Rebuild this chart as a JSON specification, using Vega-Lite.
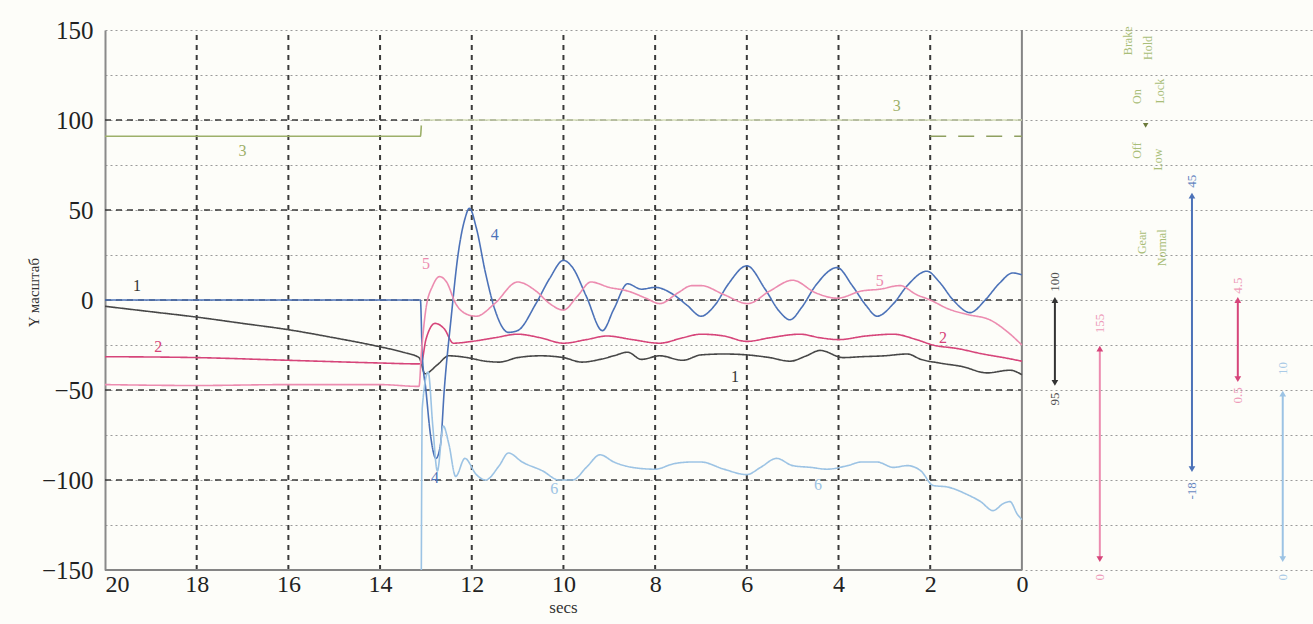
{
  "$schema": "https://vega.github.io/schema/vega-lite/v6.json",
  "width": 1208,
  "height": 540,
  "autosize": {"type": "none"},
  "padding": {"left": 105, "top": 30, "right": 0, "bottom": 54},
  "background": "#fdfdf9",
  "config": {"view": {"stroke": null}},
  "datasets": {
    "gridH": [{"v": -100}, {"v": -50}, {"v": 0}, {"v": 50}, {"v": 100}],
    "gridV": [{"t": 2}, {"t": 4}, {"t": 6}, {"t": 8}, {"t": 10}, {"t": 12}, {"t": 14}, {"t": 16}, {"t": 18}],
    "frame": [{"t": 0, "t2": 0, "v": -150, "v2": 150}, {"t": 20, "t2": 0, "v": -150, "v2": -150}],
    "lines": [
      {"s": "1", "t": 20, "v": -3.5}, {"s": "1", "t": 19, "v": -6.5}, {"s": "1", "t": 18, "v": -9.5}, {"s": "1", "t": 17, "v": -13}, {"s": "1", "t": 16, "v": -16.5}, {"s": "1", "t": 15, "v": -21}, {"s": "1", "t": 14, "v": -26}, {"s": "1", "t": 13.5, "v": -29}, {"s": "1", "t": 13.15, "v": -32}, {"s": "1", "t": 13.02, "v": -41}, {"s": "1", "t": 12.75, "v": -36}, {"s": "1", "t": 12.5, "v": -31}, {"s": "1", "t": 12.1, "v": -32}, {"s": "1", "t": 11.7, "v": -34}, {"s": "1", "t": 11.4, "v": -34.5}, {"s": "1", "t": 11.0, "v": -32}, {"s": "1", "t": 10.5, "v": -31}, {"s": "1", "t": 10.0, "v": -32}, {"s": "1", "t": 9.6, "v": -34.5}, {"s": "1", "t": 9.2, "v": -33}, {"s": "1", "t": 8.9, "v": -31}, {"s": "1", "t": 8.6, "v": -29}, {"s": "1", "t": 8.3, "v": -33}, {"s": "1", "t": 7.9, "v": -31}, {"s": "1", "t": 7.4, "v": -33.5}, {"s": "1", "t": 7.0, "v": -30.5}, {"s": "1", "t": 6.5, "v": -30}, {"s": "1", "t": 6.0, "v": -30.5}, {"s": "1", "t": 5.5, "v": -32}, {"s": "1", "t": 5.06, "v": -34}, {"s": "1", "t": 4.7, "v": -31}, {"s": "1", "t": 4.4, "v": -28}, {"s": "1", "t": 3.9, "v": -32}, {"s": "1", "t": 3.5, "v": -31.5}, {"s": "1", "t": 3.0, "v": -31}, {"s": "1", "t": 2.5, "v": -30}, {"s": "1", "t": 2.2, "v": -33}, {"s": "1", "t": 1.8, "v": -35}, {"s": "1", "t": 1.3, "v": -37}, {"s": "1", "t": 0.76, "v": -40.5}, {"s": "1", "t": 0.26, "v": -39}, {"s": "1", "t": 0, "v": -41.5},

      {"s": "2", "t": 20, "v": -31.5}, {"s": "2", "t": 18, "v": -32}, {"s": "2", "t": 16, "v": -33.5}, {"s": "2", "t": 14, "v": -35}, {"s": "2", "t": 13.15, "v": -35.5}, {"s": "2", "t": 13.1, "v": -35}, {"s": "2", "t": 13.0, "v": -22}, {"s": "2", "t": 12.8, "v": -13}, {"s": "2", "t": 12.6, "v": -16}, {"s": "2", "t": 12.4, "v": -24}, {"s": "2", "t": 12.0, "v": -23}, {"s": "2", "t": 11.5, "v": -21}, {"s": "2", "t": 11.0, "v": -19}, {"s": "2", "t": 10.5, "v": -21}, {"s": "2", "t": 10.0, "v": -24}, {"s": "2", "t": 9.5, "v": -22}, {"s": "2", "t": 9.05, "v": -20}, {"s": "2", "t": 8.5, "v": -22}, {"s": "2", "t": 7.9, "v": -24}, {"s": "2", "t": 7.4, "v": -21}, {"s": "2", "t": 7.0, "v": -19}, {"s": "2", "t": 6.5, "v": -20}, {"s": "2", "t": 6.0, "v": -23}, {"s": "2", "t": 5.5, "v": -21}, {"s": "2", "t": 4.84, "v": -19}, {"s": "2", "t": 4.4, "v": -21}, {"s": "2", "t": 4.0, "v": -22}, {"s": "2", "t": 3.4, "v": -20}, {"s": "2", "t": 2.8, "v": -19}, {"s": "2", "t": 2.3, "v": -22}, {"s": "2", "t": 1.94, "v": -25}, {"s": "2", "t": 1.4, "v": -27}, {"s": "2", "t": 0.85, "v": -30}, {"s": "2", "t": 0.4, "v": -32}, {"s": "2", "t": 0, "v": -34},

      {"s": "3a", "t": 20, "v": 91}, {"s": "3a", "t": 13.12, "v": 91}, {"s": "3a", "t": 13.1, "v": 97},
      {"s": "3b", "t": 13.1, "v": 100}, {"s": "3b", "t": 0, "v": 100},
      {"s": "3c", "t": 2.0, "v": 91}, {"s": "3c", "t": 0, "v": 91},

      {"s": "4", "t": 20, "v": 0}, {"s": "4", "t": 13.12, "v": 0}, {"s": "4", "t": 13.08, "v": -30}, {"s": "4", "t": 13.0, "v": -50}, {"s": "4", "t": 12.9, "v": -75}, {"s": "4", "t": 12.78, "v": -88}, {"s": "4", "t": 12.68, "v": -80}, {"s": "4", "t": 12.6, "v": -50}, {"s": "4", "t": 12.45, "v": -10}, {"s": "4", "t": 12.3, "v": 25}, {"s": "4", "t": 12.15, "v": 45}, {"s": "4", "t": 12.05, "v": 51}, {"s": "4", "t": 11.9, "v": 40}, {"s": "4", "t": 11.7, "v": 15}, {"s": "4", "t": 11.5, "v": -5}, {"s": "4", "t": 11.2, "v": -18}, {"s": "4", "t": 11.0, "v": -17}, {"s": "4", "t": 10.6, "v": -2}, {"s": "4", "t": 10.3, "v": 12}, {"s": "4", "t": 10.0, "v": 22}, {"s": "4", "t": 9.8, "v": 18}, {"s": "4", "t": 9.5, "v": 2}, {"s": "4", "t": 9.15, "v": -17}, {"s": "4", "t": 8.9, "v": -5}, {"s": "4", "t": 8.6, "v": 9}, {"s": "4", "t": 8.3, "v": 6}, {"s": "4", "t": 8.0, "v": 7}, {"s": "4", "t": 7.6, "v": 3}, {"s": "4", "t": 7.3, "v": -3}, {"s": "4", "t": 7.0, "v": -9}, {"s": "4", "t": 6.7, "v": -3}, {"s": "4", "t": 6.4, "v": 9}, {"s": "4", "t": 6.0, "v": 19}, {"s": "4", "t": 5.6, "v": 6}, {"s": "4", "t": 5.3, "v": -6}, {"s": "4", "t": 5.06, "v": -11}, {"s": "4", "t": 4.8, "v": -4}, {"s": "4", "t": 4.5, "v": 8}, {"s": "4", "t": 4.03, "v": 18}, {"s": "4", "t": 3.7, "v": 8}, {"s": "4", "t": 3.4, "v": -3}, {"s": "4", "t": 3.16, "v": -9}, {"s": "4", "t": 2.8, "v": -2}, {"s": "4", "t": 2.5, "v": 8}, {"s": "4", "t": 2.07, "v": 16}, {"s": "4", "t": 1.8, "v": 10}, {"s": "4", "t": 1.5, "v": 0}, {"s": "4", "t": 1.13, "v": -7}, {"s": "4", "t": 0.8, "v": 0}, {"s": "4", "t": 0.5, "v": 9}, {"s": "4", "t": 0.2, "v": 15}, {"s": "4", "t": 0, "v": 14},

      {"s": "5", "t": 20, "v": -47}, {"s": "5", "t": 18, "v": -47.5}, {"s": "5", "t": 16, "v": -47}, {"s": "5", "t": 14, "v": -47}, {"s": "5", "t": 13.15, "v": -48}, {"s": "5", "t": 13.1, "v": -30}, {"s": "5", "t": 13.0, "v": -5}, {"s": "5", "t": 12.85, "v": 8}, {"s": "5", "t": 12.7, "v": 13}, {"s": "5", "t": 12.55, "v": 10}, {"s": "5", "t": 12.35, "v": -2}, {"s": "5", "t": 12.1, "v": -8}, {"s": "5", "t": 11.9, "v": -9}, {"s": "5", "t": 11.5, "v": -2}, {"s": "5", "t": 11.0, "v": 10}, {"s": "5", "t": 10.6, "v": 5}, {"s": "5", "t": 10.3, "v": -2}, {"s": "5", "t": 10.0, "v": -5.6}, {"s": "5", "t": 9.7, "v": 2}, {"s": "5", "t": 9.4, "v": 10}, {"s": "5", "t": 9.0, "v": 7}, {"s": "5", "t": 8.6, "v": 5}, {"s": "5", "t": 8.2, "v": 1}, {"s": "5", "t": 7.9, "v": -2}, {"s": "5", "t": 7.5, "v": 4}, {"s": "5", "t": 7.2, "v": 8}, {"s": "5", "t": 7.0, "v": 8}, {"s": "5", "t": 6.5, "v": 3}, {"s": "5", "t": 5.98, "v": -2}, {"s": "5", "t": 5.5, "v": 5}, {"s": "5", "t": 5.0, "v": 11}, {"s": "5", "t": 4.5, "v": 4}, {"s": "5", "t": 4.03, "v": 1}, {"s": "5", "t": 3.5, "v": 5}, {"s": "5", "t": 3.1, "v": 6}, {"s": "5", "t": 2.66, "v": 8}, {"s": "5", "t": 2.3, "v": 3}, {"s": "5", "t": 2.0, "v": 0}, {"s": "5", "t": 1.6, "v": -5}, {"s": "5", "t": 1.2, "v": -8}, {"s": "5", "t": 0.7, "v": -11}, {"s": "5", "t": 0.3, "v": -18}, {"s": "5", "t": 0, "v": -25},

      {"s": "6", "t": 13.1, "v": -150}, {"s": "6", "t": 13.08, "v": -60}, {"s": "6", "t": 12.95, "v": -40}, {"s": "6", "t": 12.85, "v": -70}, {"s": "6", "t": 12.75, "v": -95}, {"s": "6", "t": 12.62, "v": -70}, {"s": "6", "t": 12.5, "v": -80}, {"s": "6", "t": 12.35, "v": -98}, {"s": "6", "t": 12.15, "v": -88}, {"s": "6", "t": 11.9, "v": -97}, {"s": "6", "t": 11.7, "v": -100}, {"s": "6", "t": 11.4, "v": -92}, {"s": "6", "t": 11.2, "v": -85}, {"s": "6", "t": 10.9, "v": -90}, {"s": "6", "t": 10.45, "v": -95}, {"s": "6", "t": 10.1, "v": -100}, {"s": "6", "t": 9.8, "v": -100}, {"s": "6", "t": 9.5, "v": -93}, {"s": "6", "t": 9.2, "v": -86}, {"s": "6", "t": 8.9, "v": -90}, {"s": "6", "t": 8.5, "v": -93}, {"s": "6", "t": 8.0, "v": -94}, {"s": "6", "t": 7.6, "v": -91}, {"s": "6", "t": 7.2, "v": -90}, {"s": "6", "t": 7.0, "v": -90}, {"s": "6", "t": 6.5, "v": -94}, {"s": "6", "t": 6.0, "v": -97}, {"s": "6", "t": 5.7, "v": -93}, {"s": "6", "t": 5.35, "v": -88}, {"s": "6", "t": 5.0, "v": -92}, {"s": "6", "t": 4.6, "v": -93}, {"s": "6", "t": 4.25, "v": -94}, {"s": "6", "t": 3.8, "v": -92}, {"s": "6", "t": 3.5, "v": -90}, {"s": "6", "t": 3.16, "v": -90}, {"s": "6", "t": 2.8, "v": -93}, {"s": "6", "t": 2.5, "v": -92}, {"s": "6", "t": 2.2, "v": -95}, {"s": "6", "t": 1.94, "v": -103}, {"s": "6", "t": 1.6, "v": -104}, {"s": "6", "t": 1.2, "v": -108}, {"s": "6", "t": 0.9, "v": -112}, {"s": "6", "t": 0.63, "v": -117}, {"s": "6", "t": 0.4, "v": -113}, {"s": "6", "t": 0.26, "v": -112}, {"s": "6", "t": 0.1, "v": -119}, {"s": "6", "t": 0, "v": -122}
    ],
    "bars": [
      {"s": "k", "t": -0.72, "v": 0, "v2": -46},
      {"s": "5", "t": -1.7, "v": -27, "v2": -144},
      {"s": "4", "t": -3.71, "v": 58, "v2": -94},
      {"s": "2", "t": -4.71, "v": 0, "v2": -44},
      {"s": "6", "t": -5.69, "v": -52, "v2": -144}
    ],
    "arrows": [
      {"s": "k", "t": -0.72, "v": 0, "dir": "up"}, {"s": "k", "t": -0.72, "v": -46, "dir": "down"},
      {"s": "2", "t": -1.7, "v": -27, "dir": "up"}, {"s": "2", "t": -1.7, "v": -144, "dir": "down"},
      {"s": "4", "t": -3.71, "v": 58, "dir": "up"}, {"s": "4", "t": -3.71, "v": -94, "dir": "down"},
      {"s": "2", "t": -4.71, "v": 0, "dir": "up"}, {"s": "2", "t": -4.71, "v": -44, "dir": "down"},
      {"s": "6", "t": -5.69, "v": -52, "dir": "up"}, {"s": "6", "t": -5.69, "v": -144, "dir": "down"}
    ],
    "inlineLabels": [
      {"s": "k", "t": 19.3, "v": 8, "txt": "1"}, {"s": "k", "t": 6.26, "v": -43, "txt": "1"},
      {"s": "2", "t": 18.84, "v": -26, "txt": "2"}, {"s": "2", "t": 1.72, "v": -21, "txt": "2"},
      {"s": "3a", "t": 17.0, "v": 83, "txt": "3"}, {"s": "3a", "t": 2.73, "v": 108, "txt": "3"},
      {"s": "4", "t": 11.5, "v": 36, "txt": "4"}, {"s": "4", "t": 12.8, "v": -99, "txt": "4"},
      {"s": "5", "t": 13.0, "v": 20, "txt": "5"}, {"s": "5", "t": 3.1, "v": 10.5, "txt": "5"},
      {"s": "6", "t": 10.2, "v": -105, "txt": "6"}, {"s": "6", "t": 4.45, "v": -103, "txt": "6"}
    ],
    "sideLabels": [
      {"s": "k", "t": -0.72, "v": 10, "txt": "100"}, {"s": "k", "t": -0.72, "v": -55, "txt": "95"},
      {"s": "5", "t": -1.7, "v": -13, "txt": "155"}, {"s": "5", "t": -1.7, "v": -154, "txt": "0"},
      {"s": "4", "t": -3.71, "v": 66, "txt": "45"}, {"s": "4", "t": -3.71, "v": -106, "txt": "-18"},
      {"s": "5", "t": -4.71, "v": 8, "txt": "4.5"}, {"s": "5", "t": -4.71, "v": -53, "txt": "0.5"},
      {"s": "6", "t": -5.69, "v": -38, "txt": "10"}, {"s": "6", "t": -5.69, "v": -154, "txt": "0"}
    ],
    "notes": [
      {"t": -2.31, "v": 144, "txt": "Brake"}, {"t": -2.75, "v": 140, "txt": "Hold"},
      {"t": -2.51, "v": 113, "txt": "On"}, {"t": -3.01, "v": 116, "txt": "Lock"},
      {"t": -2.51, "v": 83, "txt": "Off"}, {"t": -2.97, "v": 78, "txt": "Low"},
      {"t": -2.62, "v": 32, "txt": "Gear"}, {"t": -3.05, "v": 29, "txt": "Normal"}
    ],
    "noteMarks": [{"t": -2.7, "v": 97}]
  },
  "layer": [
    {
      "data": {"name": "gridH"},
      "mark": {"type": "rule", "color": "#3a3a3a", "strokeDash": [6, 5], "strokeWidth": 1.5},
      "encoding": {
        "y": {"field": "v", "type": "quantitative",
          "scale": {"domain": [-150, 150], "nice": false, "zero": false},
          "axis": {
            "values": [-150, -125, -100, -75, -50, -25, 0, 25, 50, 75, 100, 125, 150],
            "labelExpr": "datum.value % 50 === 0 ? datum.label : ''",
            "grid": true, "gridDash": [2, 3], "gridColor": "#9a9a9a", "gridWidth": 1,
            "domainColor": "#8a8a8a", "domainWidth": 2, "ticks": false,
            "labelFont": "Liberation Serif", "labelFontSize": 25, "labelColor": "#222222", "labelPadding": 12,
            "title": "Y масштаб", "titleFont": "Liberation Serif", "titleFontSize": 15, "titleFontWeight": "normal",
            "titleColor": "#333333", "titleX": -72, "titleY": 262, "titleAlign": "center", "titleBaseline": "middle", "titleAngle": 270
          }},
        "x": {"datum": 20, "type": "quantitative",
          "scale": {"domain": [20, -6.35], "nice": false, "zero": false},
          "axis": {
            "values": [0, 2, 4, 6, 8, 10, 12, 14, 16, 18, 20],
            "grid": false, "domain": false, "ticks": false,
            "labelFont": "Liberation Serif", "labelFontSize": 24, "labelColor": "#222222", "labelPadding": 2,
            "title": "secs", "titleFont": "Liberation Serif", "titleFontSize": 17, "titleFontWeight": "normal",
            "titleColor": "#333333", "titleX": 458, "titleAlign": "center", "titlePadding": 3
          }},
        "x2": {"datum": 0}
      }
    },
    {
      "data": {"name": "gridV"},
      "mark": {"type": "rule", "color": "#3a3a3a", "strokeDash": [5, 5], "strokeWidth": 2},
      "encoding": {
        "x": {"field": "t", "type": "quantitative"},
        "y": {"datum": -150, "type": "quantitative"},
        "y2": {"datum": 150}
      }
    },
    {
      "data": {"name": "frame"},
      "mark": {"type": "rule", "color": "#858585", "strokeWidth": 2},
      "encoding": {
        "x": {"field": "t", "type": "quantitative"},
        "x2": {"field": "t2"},
        "y": {"field": "v", "type": "quantitative"},
        "y2": {"field": "v2"}
      }
    },
    {
      "data": {"name": "lines"},
      "mark": {"type": "line", "strokeWidth": 1.6, "clip": true, "interpolate": "monotone"},
      "encoding": {
        "x": {"field": "t", "type": "quantitative"},
        "y": {"field": "v", "type": "quantitative"},
        "color": {"field": "s", "type": "nominal", "legend": null,
          "scale": {"domain": ["1", "2", "3a", "3b", "3c", "4", "5", "6", "k", "g"],
                    "range": ["#474747", "#d6457a", "#9db06a", "#d3dcb6", "#8fa060", "#4c72b8", "#ec8cb0", "#9cc3e4", "#333333", "#b5c78a"]}},
        "strokeDash": {"field": "s", "type": "nominal", "legend": null,
          "scale": {"domain": ["1", "2", "3a", "3b", "3c", "4", "5", "6"],
                    "range": [[1, 0], [1, 0], [1, 0], [1, 0], [16, 12], [1, 0], [1, 0], [1, 0]]}},
        "order": {"value": null}
      }
    },
    {
      "data": {"name": "bars"},
      "mark": {"type": "rule", "strokeWidth": 2},
      "encoding": {
        "x": {"field": "t", "type": "quantitative"},
        "y": {"field": "v", "type": "quantitative"},
        "y2": {"field": "v2"},
        "color": {"field": "s", "type": "nominal", "legend": null}
      }
    },
    {
      "data": {"name": "arrows"},
      "mark": {"type": "point", "filled": true, "size": 45, "opacity": 1},
      "encoding": {
        "x": {"field": "t", "type": "quantitative"},
        "y": {"field": "v", "type": "quantitative"},
        "shape": {"field": "dir", "type": "nominal", "legend": null,
          "scale": {"domain": ["up", "down"], "range": ["triangle-up", "triangle-down"]}},
        "color": {"field": "s", "type": "nominal", "legend": null}
      }
    },
    {
      "data": {"name": "inlineLabels"},
      "mark": {"type": "text", "font": "Liberation Serif", "fontSize": 16, "align": "center", "baseline": "middle"},
      "encoding": {
        "x": {"field": "t", "type": "quantitative"},
        "y": {"field": "v", "type": "quantitative"},
        "text": {"field": "txt"},
        "color": {"field": "s", "type": "nominal", "legend": null}
      }
    },
    {
      "data": {"name": "sideLabels"},
      "mark": {"type": "text", "font": "Liberation Serif", "fontSize": 13, "angle": 270, "align": "center", "baseline": "middle", "opacity": 0.85},
      "encoding": {
        "x": {"field": "t", "type": "quantitative"},
        "y": {"field": "v", "type": "quantitative"},
        "text": {"field": "txt"},
        "color": {"field": "s", "type": "nominal", "legend": null}
      }
    },
    {
      "data": {"name": "notes"},
      "mark": {"type": "text", "font": "Liberation Serif", "fontSize": 12, "angle": 270, "align": "center", "baseline": "middle", "color": "#a9bd78"},
      "encoding": {
        "x": {"field": "t", "type": "quantitative"},
        "y": {"field": "v", "type": "quantitative"},
        "text": {"field": "txt"}
      }
    },
    {
      "data": {"name": "noteMarks"},
      "mark": {"type": "point", "shape": "triangle-down", "filled": true, "size": 30, "color": "#6b7a3a", "opacity": 1},
      "encoding": {
        "x": {"field": "t", "type": "quantitative"},
        "y": {"field": "v", "type": "quantitative"}
      }
    }
  ]
}
